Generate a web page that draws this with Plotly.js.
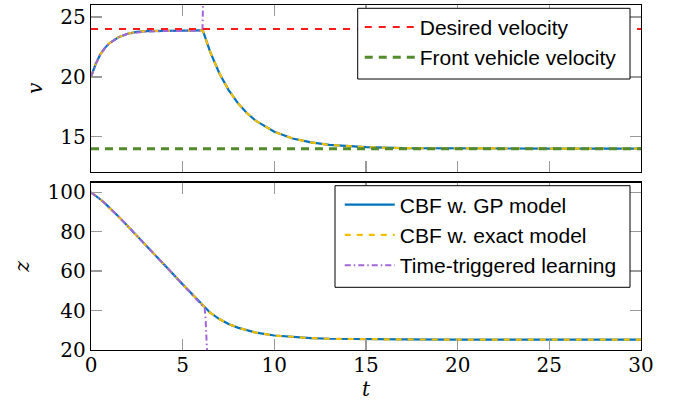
<!DOCTYPE html>
<html>
<head>
<meta charset="utf-8">
<script src="https://cdn.plot.ly/plotly-3.0.1.min.js"></script>
<style>html,body{margin:0;padding:0;background:#fff;}#chart{width:677px;height:407px;}</style>
</head>
<body>
<div id="chart"></div>
<script>
// Time samples (s)
const t = [0, 0.25, 0.5, 0.75, 1, 1.5, 2, 2.5, 3, 4, 5, 6, 6.1, 6.5, 7, 7.5, 8, 8.5, 9, 10, 11, 12, 13, 14, 15, 17, 20, 25, 30];
// Velocity, CBF w. GP model
const vGP = [20, 21.05, 21.85, 22.4, 22.8, 23.3, 23.6, 23.75, 23.82, 23.86, 23.88, 23.88, 23.88, 22.09, 20.3, 18.91, 17.82, 16.98, 16.32, 15.41, 14.85, 14.52, 14.31, 14.19, 14.12, 14.04, 14.01, 14.0, 14.0];
// Velocity, CBF w. exact model
const vExact = [20, 21.05, 21.85, 22.4, 22.8, 23.3, 23.6, 23.75, 23.82, 23.86, 23.88, 23.88, 23.88, 22.09, 20.3, 18.91, 17.82, 16.98, 16.32, 15.41, 14.85, 14.52, 14.31, 14.19, 14.12, 14.04, 14.01, 14.0, 14.0];
// Distance, CBF w. GP model
const zGP = [100, 98.4, 96.5, 94.5, 92.3, 87.7, 82.9, 78.1, 73.1, 63.2, 53.3, 43.4, 42.4, 38.92, 35.69, 33.23, 31.35, 29.92, 28.82, 27.35, 26.49, 26.0, 25.7, 25.54, 25.44, 25.35, 25.3, 25.3, 25.3];
// Distance, CBF w. exact model
const zExact = [100, 98.4, 96.5, 94.5, 92.3, 87.7, 82.9, 78.1, 73.1, 63.2, 53.3, 43.4, 42.4, 38.92, 35.69, 33.23, 31.35, 29.92, 28.82, 27.35, 26.49, 26.0, 25.7, 25.54, 25.44, 25.35, 25.3, 25.3, 25.3];
// Time-triggered learning
const tTT_v = [0, 0.25, 0.5, 0.75, 1, 1.5, 2, 2.5, 3, 4, 5, 6, 6.08, 6.16];
const vTT = [20, 21.05, 21.85, 22.4, 22.8, 23.3, 23.6, 23.72, 23.78, 23.82, 23.84, 23.85, 23.85, 30];
const tTT_z = [0, 0.25, 0.5, 0.75, 1, 1.5, 2, 2.5, 3, 4, 5, 6, 6.2, 6.25, 6.35];
const zTT = [100, 98.4, 96.5, 94.5, 92.3, 87.7, 82.9, 78.1, 73.1, 63.2, 53.3, 43.4, 41.2, 36, 15];
// Reference lines
const tRef = [0, 30];
const vDesired = [24, 24];
const vFront = [14, 14];
// Tick labels
const xTicks = [0, 5, 10, 15, 20, 25, 30];
const vTicks = [15, 20, 25];
const zTicks = [20, 40, 60, 80, 100];

const names = ['CBF w. GP model', 'CBF w. exact model', 'Time-triggered learning', 'Desired velocity', 'Front vehicle velocity'];
const cBlue = '#0072BD', cYellow = '#F2BE00', cPurple = '#A066D8', cRed = '#FF1A1A', cGreen = '#548A2E';

const traces = [
  {x: t, y: vGP, xaxis: 'x', yaxis: 'y', mode: 'lines', line: {color: cBlue, width: 2.2}, showlegend: false, name: names[0]},
  {x: t, y: vExact, xaxis: 'x', yaxis: 'y', mode: 'lines', line: {color: cYellow, width: 2.2, dash: '6px,6px'}, showlegend: false, name: names[1]},
  {x: tTT_v, y: vTT, xaxis: 'x', yaxis: 'y', mode: 'lines', line: {color: cPurple, width: 2, dash: '6px,3px,1.5px,3px'}, showlegend: false, name: names[2]},
  {x: tRef, y: vDesired, xaxis: 'x', yaxis: 'y', mode: 'lines', line: {color: cRed, width: 2, dash: '7px,7px'}, name: names[3], legend: 'legend'},
  {x: tRef, y: vFront, xaxis: 'x', yaxis: 'y', mode: 'lines', line: {color: cGreen, width: 3, dash: '8px,6px'}, name: names[4], legend: 'legend'},
  {x: t, y: zGP, xaxis: 'x2', yaxis: 'y2', mode: 'lines', line: {color: cBlue, width: 2.2}, name: names[0], legend: 'legend2'},
  {x: t, y: zExact, xaxis: 'x2', yaxis: 'y2', mode: 'lines', line: {color: cYellow, width: 2.2, dash: '6px,6px'}, name: names[1], legend: 'legend2'},
  {x: tTT_z, y: zTT, xaxis: 'x2', yaxis: 'y2', mode: 'lines', line: {color: cPurple, width: 2, dash: '6px,3px,1.5px,3px'}, name: names[2], legend: 'legend2'}
];

const serif = {family: 'DejaVu Serif', size: 20, color: '#000'};
const axisCommon = {
  showgrid: false, zeroline: false, showline: true, linecolor: '#000', linewidth: 1.3,
  mirror: 'ticks', ticks: 'inside', ticklen: 11, tickwidth: 1.5, tickcolor: '#9a9a9a',
  tickfont: serif
};
const legendCommon = {
  font: {family: 'Liberation Sans', size: 21, color: '#000'},
  bgcolor: 'rgba(0,0,0,0)', borderwidth: 0, itemwidth: 50,
  xanchor: 'right', yanchor: 'top', xref: 'paper', yref: 'paper', tracegroupgap: 0
};

const layout = {
  width: 677, height: 407,
  font: {family: 'DejaVu Serif', size: 20, color: '#000'},
  margin: {l: 91, r: 36, t: 5, b: 57},
  paper_bgcolor: '#fff', plot_bgcolor: '#fff',
  xaxis: Object.assign({}, axisCommon, {domain: [0, 1], anchor: 'y', range: [0, 30], tickvals: xTicks, showticklabels: false}),
  yaxis: Object.assign({}, axisCommon, {domain: [0.517, 1], anchor: 'x', range: [12.08, 26], tickvals: vTicks,
    title: {text: '<i>v</i>', font: serif, standoff: 12}}),
  xaxis2: Object.assign({}, axisCommon, {domain: [0, 1], anchor: 'y2', range: [0, 30], tickvals: xTicks, ticklabelstandoff: -3,
    title: {text: '<i>t</i>', font: serif, standoff: 0}}),
  yaxis2: Object.assign({}, axisCommon, {domain: [0, 0.485], anchor: 'x2', range: [20, 104.9], tickvals: zTicks,
    title: {text: '<i>z</i>', font: serif, standoff: 12}}),
  legend: Object.assign({}, legendCommon, {x: 0.965, y: 0.995}),
  legend2: Object.assign({}, legendCommon, {x: 0.965, y: 0.48}),
  shapes: [
    {type: 'rect', xref: 'paper', yref: 'paper', x0: (357.7 - 91) / 550, x1: (630 - 91) / 550, y0: (350 - 79) / 345, y1: (350 - 8.3) / 345,
      line: {color: '#000', width: 1}, fillcolor: '#fff', layer: 'above'},
    {type: 'rect', xref: 'paper', yref: 'paper', x0: (335 - 91) / 550, x1: (630 - 91) / 550, y0: (350 - 287.3) / 345, y1: (350 - 185.7) / 345,
      line: {color: '#000', width: 1}, fillcolor: '#fff', layer: 'above'}
  ]
};

Plotly.newPlot('chart', traces, layout, {displayModeBar: false, staticPlot: true});
</script>
</body>
</html>
